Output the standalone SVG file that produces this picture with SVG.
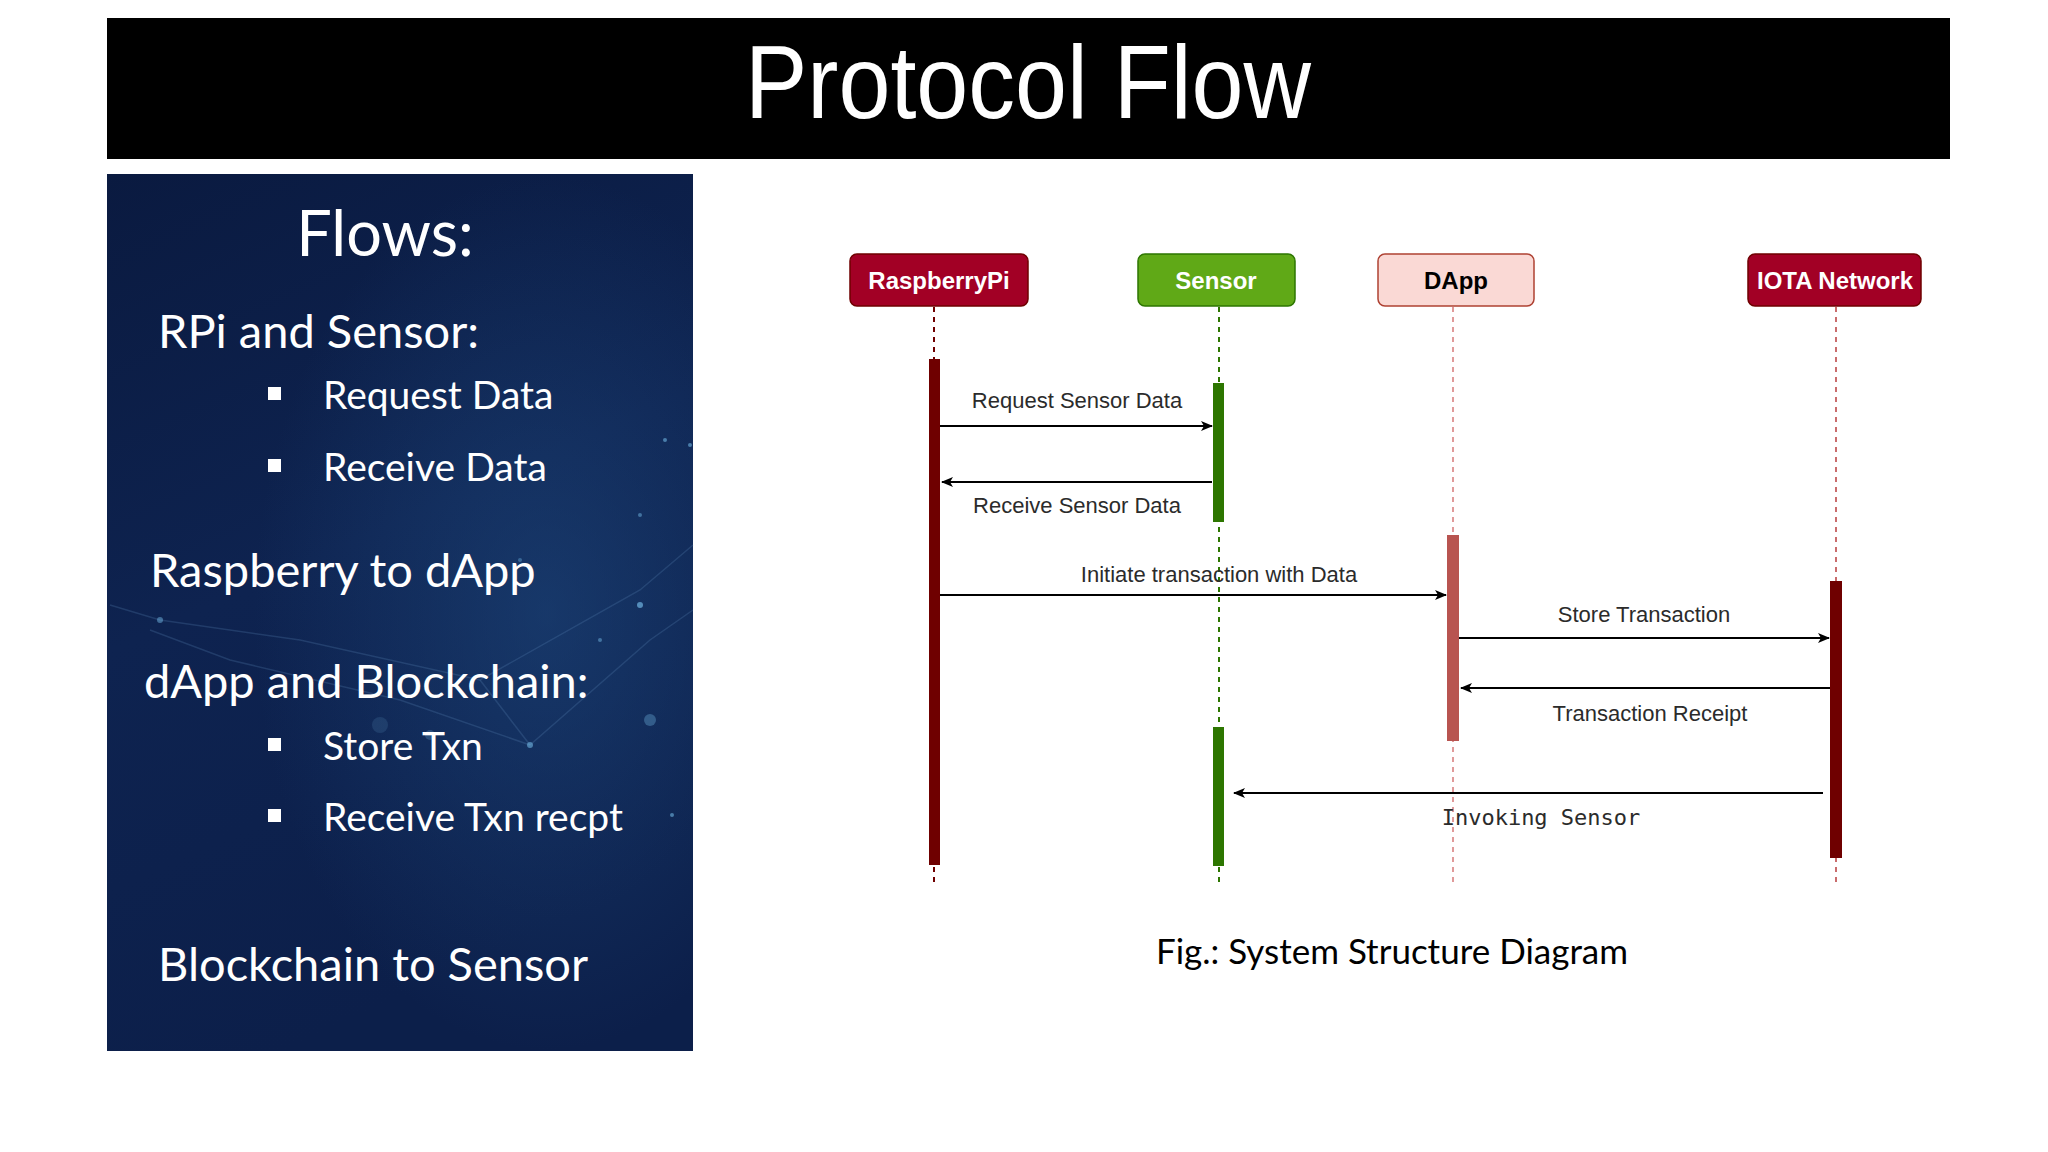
<svg xmlns="http://www.w3.org/2000/svg" width="2048" height="1152" viewBox="0 0 2048 1152">
  <defs>
    <style>
      .panel-h { font-family: Lato, "Open Sans", sans-serif; fill: #ffffff; font-size: 47px; }
      .panel-b { font-family: Lato, "Open Sans", sans-serif; fill: #ffffff; font-size: 39px; }
      .panel-t { font-family: Lato, "Open Sans", sans-serif; fill: #ffffff; font-size: 63px; text-anchor: middle; }
      .node-t { font-family: "Liberation Sans", Arial, sans-serif; font-weight: bold; font-size: 24px; text-anchor: middle; }
      .msg { font-family: "Liberation Sans", Arial, sans-serif; font-size: 22px; fill: #2b2b2b; text-anchor: middle; }
      .msg-mono { font-family: "DejaVu Sans Mono", "Liberation Mono", monospace; font-size: 22px; fill: #2b2b2b; text-anchor: middle; }
      .arrow { stroke: #000000; stroke-width: 2; fill: none; marker-end: url(#arr); }
      .life { stroke-width: 2; stroke-dasharray: 5 5; fill: none; }
    </style>
    <marker id="arr" viewBox="0 0 12 10" refX="11" refY="5" markerWidth="12" markerHeight="10" markerUnits="userSpaceOnUse" orient="auto">
      <path d="M0,0 L12,5 L0,10 L3,5 Z" fill="#000000"/>
    </marker>
    <linearGradient id="panelBg" x1="0" y1="0" x2="0.3" y2="1">
      <stop offset="0" stop-color="#0a1a40"/>
      <stop offset="0.5" stop-color="#0e2350"/>
      <stop offset="1" stop-color="#0c1f4a"/>
    </linearGradient>
    <radialGradient id="glow" cx="0.75" cy="0.5" r="0.5">
      <stop offset="0" stop-color="#1f4a80" stop-opacity="0.55"/>
      <stop offset="1" stop-color="#1f4a80" stop-opacity="0"/>
    </radialGradient>
  </defs>

  <rect x="0" y="0" width="2048" height="1152" fill="#ffffff"/>

  <!-- Title bar -->
  <g id="title">
    <rect x="107" y="18" width="1843" height="141" fill="#000000"/>
    <text x="1028" y="118" font-family="'Liberation Sans', Arial, sans-serif" font-size="104" fill="#ffffff" text-anchor="middle" textLength="566" lengthAdjust="spacingAndGlyphs">Protocol Flow</text>
  </g>

  <!-- Left panel -->
  <g id="flows-panel">
    <rect x="107" y="174" width="586" height="877" fill="url(#panelBg)"/>
    <rect x="107" y="174" width="586" height="877" fill="url(#glow)"/>
    <g stroke="#5a86b8" stroke-opacity="0.25" stroke-width="1.5" fill="none">
      <path d="M110,605 L160,620 L300,640 L480,680 L640,590 L693,545"/>
      <path d="M150,630 L230,660 L400,700 L530,745"/>
      <path d="M530,745 L650,640 L693,610"/>
      <path d="M480,680 L530,745"/>
    </g>
    <g fill="#6fb4e0">
      <circle cx="640" cy="605" r="3" fill-opacity="0.7"/>
      <circle cx="530" cy="745" r="3" fill-opacity="0.6"/>
      <circle cx="650" cy="720" r="6" fill-opacity="0.35"/>
      <circle cx="160" cy="620" r="3" fill-opacity="0.5"/>
      <circle cx="665" cy="440" r="2" fill-opacity="0.6"/>
      <circle cx="690" cy="445" r="2" fill-opacity="0.6"/>
      <circle cx="600" cy="640" r="2" fill-opacity="0.5"/>
      <circle cx="520" cy="560" r="2" fill-opacity="0.4"/>
      <circle cx="672" cy="815" r="2" fill-opacity="0.6"/>
      <circle cx="430" cy="735" r="5" fill-opacity="0.25"/>
      <circle cx="380" cy="725" r="8" fill-opacity="0.15"/>
      <circle cx="640" cy="515" r="2" fill-opacity="0.5"/>
    </g>
    <text x="385" y="256" class="panel-t">Flows:</text>
    <text x="158" y="348" class="panel-h">RPi and Sensor:</text>
    <rect x="268" y="387" width="13" height="13" fill="#ffffff"/>
    <text x="323" y="409" class="panel-b">Request Data</text>
    <rect x="268" y="459" width="13" height="13" fill="#ffffff"/>
    <text x="323" y="481" class="panel-b">Receive Data</text>
    <text x="150" y="587" class="panel-h">Raspberry to dApp</text>
    <text x="144" y="698" class="panel-h">dApp and Blockchain:</text>
    <rect x="268" y="738" width="13" height="13" fill="#ffffff"/>
    <text x="323" y="760" class="panel-b">Store Txn</text>
    <rect x="268" y="809" width="13" height="13" fill="#ffffff"/>
    <text x="323" y="831" class="panel-b">Receive Txn recpt</text>
    <text x="158" y="981" class="panel-h">Blockchain to Sensor</text>
  </g>

  <!-- Lifelines (dashed) -->
  <g id="lifelines">
    <line class="life" x1="934" y1="307" x2="934" y2="882" stroke="#6f0000"/>
    <line class="life" x1="1219" y1="307" x2="1219" y2="882" stroke="#2d7600"/>
    <line class="life" x1="1453" y1="307" x2="1453" y2="882" stroke="#e09a9a"/>
    <line class="life" x1="1836" y1="307" x2="1836" y2="882" stroke="#c96c6c"/>
  </g>

  <!-- Nodes -->
  <g id="node-raspberrypi">
    <rect x="850" y="254" width="178" height="52" rx="7" fill="#a20025" stroke="#6f0000" stroke-width="1.5"/>
    <text x="939" y="289" class="node-t" fill="#ffffff">RaspberryPi</text>
    <rect x="929" y="359" width="11" height="506" fill="#6f0000"/>
  </g>
  <g id="node-sensor">
    <rect x="1138" y="254" width="157" height="52" rx="7" fill="#60a917" stroke="#2d7600" stroke-width="1.5"/>
    <text x="1216" y="289" class="node-t" fill="#ffffff">Sensor</text>
    <rect x="1213" y="383" width="11" height="139" fill="#2d7600"/>
    <rect x="1213" y="727" width="11" height="139" fill="#2d7600"/>
  </g>
  <g id="node-dapp">
    <rect x="1378" y="254" width="156" height="52" rx="7" fill="#fad9d5" stroke="#ae4132" stroke-width="1.5"/>
    <text x="1456" y="289" class="node-t" fill="#000000">DApp</text>
    <rect x="1447" y="535" width="12" height="206" fill="#b85450"/>
  </g>
  <g id="node-iota">
    <rect x="1748" y="254" width="173" height="52" rx="7" fill="#a20025" stroke="#6f0000" stroke-width="1.5"/>
    <text x="1835" y="289" class="node-t" fill="#ffffff">IOTA Network</text>
    <rect x="1830" y="581" width="12" height="277" fill="#6f0000"/>
  </g>

  <!-- Connectors -->
  <g id="connectors">
    <line class="arrow" x1="940" y1="426" x2="1212" y2="426"/>
    <text x="1077" y="408" class="msg">Request Sensor Data</text>
    <line class="arrow" x1="1212" y1="482" x2="942" y2="482"/>
    <text x="1077" y="513" class="msg">Receive Sensor Data</text>
    <line class="arrow" x1="940" y1="595" x2="1446" y2="595"/>
    <text x="1219" y="582" class="msg">Initiate transaction with Data</text>
    <line class="arrow" x1="1459" y1="638" x2="1829" y2="638" stroke="#444444"/>
    <text x="1644" y="622" class="msg">Store Transaction</text>
    <line class="arrow" x1="1830" y1="688" x2="1461" y2="688"/>
    <text x="1650" y="721" class="msg">Transaction Receipt</text>
    <line class="arrow" x1="1823" y1="793" x2="1234" y2="793"/>
    <text x="1541" y="825" class="msg-mono">Invoking Sensor</text>
  </g>

  <!-- Caption -->
  <text id="caption" x="1392" y="964" font-family="Lato, 'Open Sans', sans-serif" font-size="35" fill="#000000" text-anchor="middle">Fig.: System Structure Diagram</text>
</svg>
